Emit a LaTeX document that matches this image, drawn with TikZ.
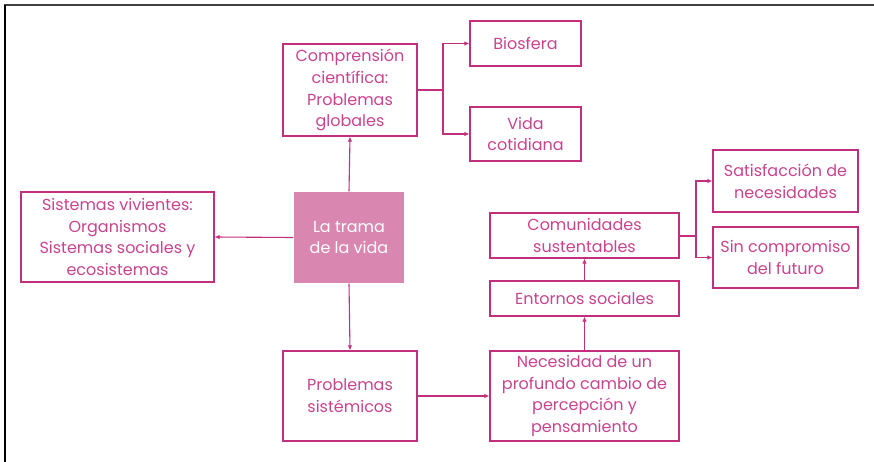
\documentclass[tikz,border=0pt]{standalone}
\usepackage{fontspec}
\setmainfont{Poppins}
\usetikzlibrary{arrows.meta}
\definecolor{mag}{HTML}{C2307D}
\definecolor{magtext}{HTML}{C8448F}
\definecolor{pinkfill}{HTML}{D987B0}
\tikzset{
  box/.style={draw=mag, line width=1.2pt, fill=white, text=magtext, align=center,
    inner sep=0pt, font=\fontsize{16}{21.8}\selectfont},
  mainbox/.style={box, draw=none, fill=pinkfill, text=white},
  conn/.style={draw=mag, line width=1.1pt, -{Latex[length=5pt,width=4.5pt]}},
  link/.style={draw=mag, line width=1.1pt}
}
\begin{document}
\begin{tikzpicture}[x=1pt,y=-1pt]
\useasboundingbox (0,0) rectangle (874,462);
\fill[white] (0,0) rectangle (874,462);
\draw[line width=2pt, black!75] (4,5) -- (874,5);
\draw[line width=2pt, black] (5,5) -- (5,462);

\node[box, minimum width=134pt, minimum height=92pt] (comp) at (350,90) {Comprensión\\científica:\\Problemas\\globales};
\node[box, minimum width=111pt, minimum height=45pt] (bio) at (525.5,43.5) {Biosfera};
\node[box, minimum width=111pt, minimum height=54pt] (vida) at (525.5,134) {Vida\\cotidiana};
\node[box, minimum width=193pt, minimum height=90pt] (sist) at (117.5,237) {Sistemas vivientes:\\Organismos\\Sistemas sociales y\\ecosistemas};
\node[mainbox, minimum width=110pt, minimum height=91pt] (trama) at (349,237.5) {La trama\\de la vida};
\node[box, minimum width=134pt, minimum height=90pt] (prob) at (350,396) {Problemas\\sistémicos};
\node[box, minimum width=189pt, minimum height=90pt] (nec) at (584.5,396) {Necesidad de un\\profundo cambio de\\percepción y\\pensamiento};
\node[box, minimum width=189pt, minimum height=35pt] (ent) at (584.5,298.5) {Entornos sociales};
\node[box, minimum width=189pt, minimum height=45pt] (com) at (584.5,235.5) {Comunidades\\sustentables};
\node[box, minimum width=145pt, minimum height=62pt] (sat) at (785.5,181) {Satisfacción de\\necesidades};
\node[box, minimum width=145pt, minimum height=61pt] (sin) at (785.5,257.5) {Sin compromiso\\del futuro};

\coordinate (j1) at (443,90);
\coordinate (j2) at (696,235.5);

\draw[link] (comp.east) -- (j1);
\draw[conn] (j1) |- (bio.west);
\draw[conn] (j1) |- (vida.west);
\draw[conn] (trama.north) -- (comp.south);
\draw[conn] (trama.west) -- (sist.east);
\draw[conn] (trama.south) -- (prob.north);
\draw[conn] (prob.east) -- (nec.west);
\draw[conn] (nec.north) -- (ent.south);
\draw[conn] (ent.north) -- (com.south);
\draw[link, line width=2pt] (com.east) -- (j2);
\draw[conn] (j2) |- (sat.west);
\draw[conn] (j2) |- (sin.west);
\end{tikzpicture}
\end{document}
